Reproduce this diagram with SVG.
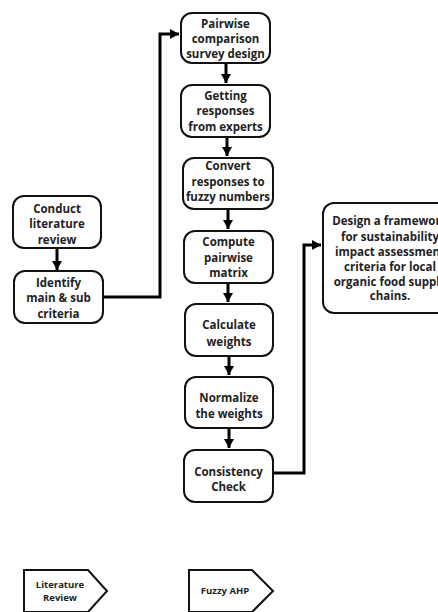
<svg xmlns="http://www.w3.org/2000/svg" width="438" height="612" viewBox="0 0 438 612">
<style>
.box{fill:#fff;stroke:#111;stroke-width:2}
.t{font-family:"Open Sans","Liberation Sans",sans-serif;font-weight:700;font-size:11.5px;fill:#222;text-anchor:middle}
.s{font-size:9.5px}
.c{fill:none;stroke:#000;stroke-width:3}
</style>
<defs>
<marker id="ah" markerUnits="userSpaceOnUse" markerWidth="12" markerHeight="12" viewBox="0 0 12 12" refX="10" refY="6" orient="auto">
<path d="M1,1 L10,6 L1,11 Z" fill="#000"/>
</marker>
</defs>
<rect width="438" height="612" fill="#fff"/>
<g id="connectors">
<line class="c" x1="226" y1="64" x2="226" y2="83" marker-end="url(#ah)"/>
<line class="c" x1="227" y1="138" x2="227" y2="156" marker-end="url(#ah)"/>
<line class="c" x1="228" y1="210" x2="228" y2="229" marker-end="url(#ah)"/>
<line class="c" x1="228" y1="284" x2="228" y2="302" marker-end="url(#ah)"/>
<line class="c" x1="229" y1="357" x2="229" y2="375" marker-end="url(#ah)"/>
<line class="c" x1="229" y1="429" x2="229" y2="448" marker-end="url(#ah)"/>
<line class="c" x1="57" y1="249" x2="57" y2="270" marker-end="url(#ah)"/>
<polyline class="c" points="103,297 160,297 160,34 179,34" marker-end="url(#ah)"/>
<polyline class="c" points="273,473 304,473 304,245 321,245" marker-end="url(#ah)"/>
</g>
<g id="n1"><rect class="box" x="181" y="13" width="89" height="50" rx="11"/>
<text class="t" x="225.5" y="28">Pairwise</text><text class="t" x="225.5" y="43">comparison</text><text class="t" x="225.5" y="58">survey design</text></g>
<g id="n2"><rect class="box" x="181" y="85" width="89" height="52" rx="11"/>
<text class="t" x="225.5" y="100">Getting</text><text class="t" x="225.5" y="115">responses</text><text class="t" x="225.5" y="131">from experts</text></g>
<g id="n3"><rect class="box" x="183" y="158" width="90" height="51" rx="11"/>
<text class="t" x="228" y="170">Convert</text><text class="t" x="228" y="186">responses to</text><text class="t" x="228" y="201">fuzzy numbers</text></g>
<g id="n4"><rect class="box" x="184" y="231" width="89" height="52" rx="11"/>
<text class="t" x="228.5" y="246">Compute</text><text class="t" x="228.5" y="262">pairwise</text><text class="t" x="228.5" y="277">matrix</text></g>
<g id="n5"><rect class="box" x="185" y="304" width="88" height="52" rx="11"/>
<text class="t" x="229" y="329">Calculate</text><text class="t" x="229" y="346">weights</text></g>
<g id="n6"><rect class="box" x="185" y="377" width="88" height="51" rx="11"/>
<text class="t" x="229" y="402">Normalize</text><text class="t" x="229" y="418">the weights</text></g>
<g id="n7"><rect class="box" x="184" y="450" width="89" height="52" rx="11"/>
<text class="t" x="228.5" y="476">Consistency</text><text class="t" x="228.5" y="491">Check</text></g>
<g id="n8"><rect class="box" x="13" y="196" width="88" height="52" rx="11"/>
<text class="t" x="57" y="213">Conduct</text><text class="t" x="57" y="228">literature</text><text class="t" x="57" y="244">review</text></g>
<g id="n9"><rect class="box" x="14" y="271" width="89" height="52" rx="11"/>
<text class="t" x="58.5" y="287">Identify</text><text class="t" x="58.5" y="302">main &amp; sub</text><text class="t" x="58.5" y="318">criteria</text></g>
<g id="n10"><rect class="box" x="323" y="203" width="134" height="110" rx="11"/>
<text class="t" x="390" y="225">Design a framework</text><text class="t" x="390" y="241">for sustainability</text><text class="t" x="390" y="256">impact assessment</text><text class="t" x="390" y="271">criteria for local</text><text class="t" x="390" y="286">organic food supply</text><text class="t" x="390" y="300">chains.</text></g>
<g id="legend1"><polygon class="box" points="24,570 88,570 107,591 88,612 24,612"/>
<text class="t s" x="60" y="588">Literature</text><text class="t s" x="60" y="601">Review</text></g>
<g id="legend2"><polygon class="box" points="189,570 252,570 273,591 252,612 189,612"/>
<text class="t s" x="225" y="594">Fuzzy AHP</text></g>
</svg>
